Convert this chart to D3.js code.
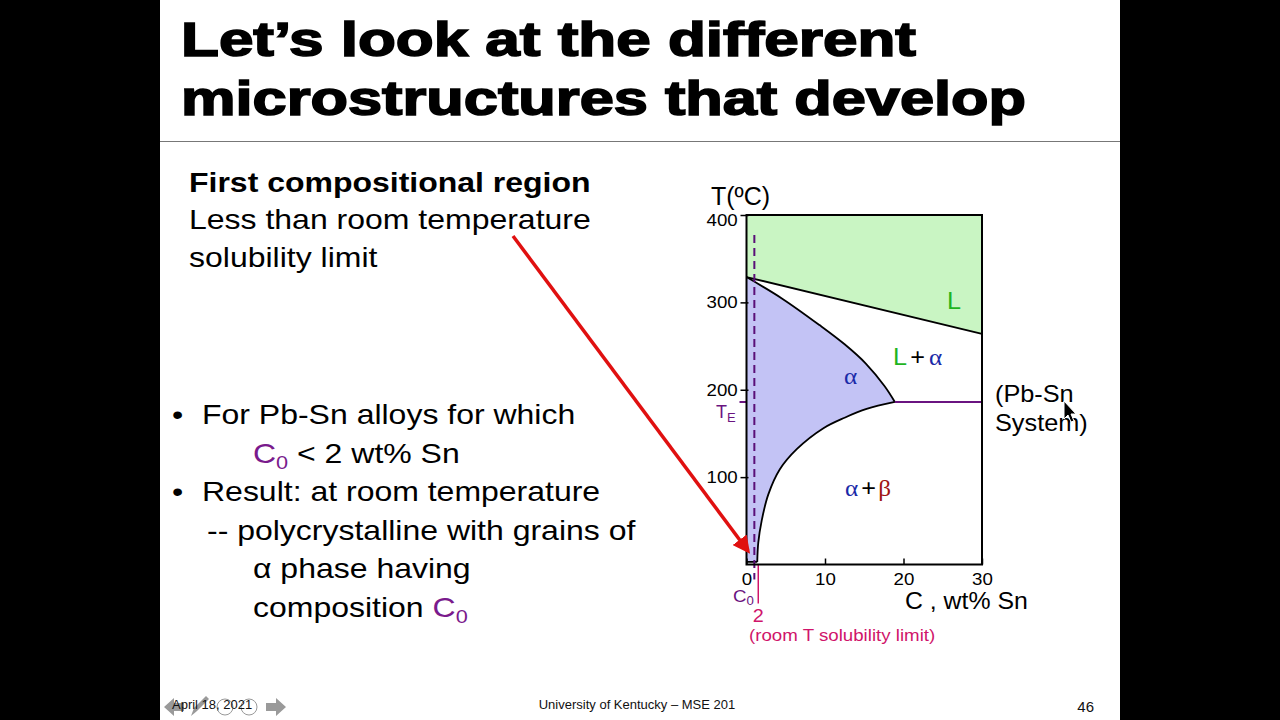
<!DOCTYPE html>
<html>
<head>
<meta charset="utf-8">
<script src="https://cdn.jsdelivr.net/npm/d3@7"></script>
<style>
  html, body { margin: 0; padding: 0; background: #000; }
  svg { display: block; font-family: "Liberation Sans", Arial, sans-serif; }
</style>
</head>
<body>
<svg id="slide" width="1280" height="720"></svg>
<script>
// ---- data ----
const compTicks = [0, 10, 20, 30];          // wt% Sn
const tempTicks = [100, 200, 300, 400];     // deg C
const liquidus = [[0, 329], [30, 264]];
const solidus = [[0, 329], [4.6, 304], [9.3, 274], [12.5, 252], [15.2, 230], [17.6, 204], [18.9, 186]];
const solvus = [[18.9, 186], [15.3, 178], [12.5, 168], [9.8, 156], [6.4, 132], [4.25, 109], [2.77, 80], [1.93, 50], [1.5, 25], [1.37, 3]];
const eutecticT = 186;
const c0 = 1.0;
const solubilityLimit = 1.5;   // drawn position of the "2" line
const dashTop = 377;

const svg = d3.select('#slide');

// text helper: the slide is stretched a bit horizontally
function txt(parent, x, y, size, sx = 1) {
  return parent.append('text')
    .attr('transform', `translate(${x},${y}) scale(${sx},1)`)
    .attr('font-size', size);
}

// slide background
svg.append('rect').attr('x', 160).attr('y', 0).attr('width', 960).attr('height', 720).attr('fill', '#fff');

// title
const title = svg.append('g').attr('font-weight', 900).attr('font-size', 48).attr('fill', '#000')
  .attr('stroke', '#000').attr('stroke-width', 1.6);
title.append('text').attr('x', 181).attr('y', 56).attr('textLength', 735).attr('lengthAdjust', 'spacingAndGlyphs')
  .text('Let’s look at the different');
title.append('text').attr('x', 181).attr('y', 115).attr('textLength', 845).attr('lengthAdjust', 'spacingAndGlyphs')
  .text('microstructures that develop');
svg.append('line').attr('x1', 160).attr('x2', 1120).attr('y1', 141.5).attr('y2', 141.5)
  .attr('stroke', '#777').attr('stroke-width', 1.2);

// left text
const body = svg.append('g').attr('fill', '#000');
const bs = 28, bsx = 1.143;
txt(body, 189, 192, bs, bsx).attr('font-weight', 'bold').text('First compositional region');
txt(body, 189, 229, bs, bsx).text('Less than room temperature');
txt(body, 189, 267, bs, bsx).text('solubility limit');

const purple = '#7a1a8c';
txt(body, 172, 424, bs, bsx).text('•');
txt(body, 202, 424, bs, bsx).text('For Pb-Sn alloys for which');
const l2 = txt(body, 253, 463, bs, bsx);
l2.append('tspan').attr('fill', purple).text('C');
l2.append('tspan').attr('fill', purple).attr('font-size', 19).attr('dy', 6).text('0');
l2.append('tspan').attr('dy', -6).text(' < 2 wt% Sn');
txt(body, 172, 501, bs, bsx).text('•');
txt(body, 202, 501, bs, bsx).text('Result: at room temperature');
txt(body, 207, 540, bs, bsx).text('-- polycrystalline with grains of');
txt(body, 253, 578, bs, bsx).text('α phase having');
const l6 = txt(body, 253, 617, bs, bsx);
l6.append('tspan').text('composition ');
l6.append('tspan').attr('fill', purple).text('C');
l6.append('tspan').attr('fill', purple).attr('font-size', 19).attr('dy', 6).text('0');

// ---- phase diagram ----
const x = d3.scaleLinear().domain([0, 30]).range([746.5, 982]);
const y = d3.scaleLinear().domain([0, 400]).range([564.5, 215]);
const g = svg.append('g');

const line = d3.line().x(d => x(d[0])).y(d => y(d[1]));
const curve = d3.line().x(d => x(d[0])).y(d => y(d[1])).curve(d3.curveCatmullRom.alpha(0.5));

// liquid region
const liqArea = [[0, 400], ...liquidus, [30, 400]];
g.append('path').attr('d', line(liqArea) + 'Z').attr('fill', '#c9f5c3');

// alpha region
const lowT = solvus[solvus.length - 1][1];
const alphaPath = line([[0, lowT], [0, solidus[0][1]]]) +
  curve(solidus).replace('M', 'L') + curve(solvus).replace('M', 'L') + 'Z';
g.append('path').attr('d', alphaPath).attr('fill', '#c3c3f5');

// boundaries
g.append('path').attr('d', line(liquidus)).attr('fill', 'none').attr('stroke', '#000').attr('stroke-width', 1.8);
g.append('path').attr('d', curve(solidus)).attr('fill', 'none').attr('stroke', '#000').attr('stroke-width', 1.8);
g.append('path').attr('d', curve(solvus)).attr('fill', 'none').attr('stroke', '#000').attr('stroke-width', 1.8);
g.append('path').attr('d', line([[0, lowT], solvus[solvus.length - 1]])).attr('stroke', '#000').attr('stroke-width', 1.8);

// eutectic line
const ePurple = '#6a1480';
g.append('line').attr('x1', x(solvus[0][0])).attr('x2', x(30)).attr('y1', y(eutecticT)).attr('y2', y(eutecticT))
  .attr('stroke', ePurple).attr('stroke-width', 2);
g.append('line').attr('x1', x(0) - 7).attr('x2', x(0)).attr('y1', y(eutecticT)).attr('y2', y(eutecticT))
  .attr('stroke', ePurple).attr('stroke-width', 2);

// solubility limit line (crimson)
const crimson = '#d0146a';
g.append('line').attr('x1', x(solubilityLimit)).attr('x2', x(solubilityLimit)).attr('y1', y(0)).attr('y2', y(0) + 39)
  .attr('stroke', crimson).attr('stroke-width', 1.5);

// C0 dashed line
g.append('line').attr('x1', x(c0)).attr('x2', x(c0)).attr('y1', y(dashTop)).attr('y2', y(0) + 15)
  .attr('stroke', '#5a0f78').attr('stroke-width', 2).attr('stroke-dasharray', '8,5');

// frame
g.append('rect').attr('x', x(0)).attr('y', y(400)).attr('width', x(30) - x(0)).attr('height', y(0) - y(400))
  .attr('fill', 'none').attr('stroke', '#000').attr('stroke-width', 2);

// axes
const yAxis = d3.axisLeft(y).tickValues(tempTicks).tickSize(6).tickPadding(2);
const ya = g.append('g').attr('transform', `translate(${x(0)},0)`).call(yAxis);
ya.select('.domain').remove();
ya.selectAll('line').attr('stroke', '#000').attr('stroke-width', 1.5).attr('x2', -6).attr('x1', 2);
ya.selectAll('text').attr('font-size', 17).attr('fill', '#000').attr('font-family', '"Liberation Sans", Arial, sans-serif')
  .attr('transform', d => d === 400 ? 'translate(0,5) scale(1.1,1)' : 'scale(1.1,1)');

const xAxis = d3.axisBottom(x).tickValues(compTicks).tickSize(-6).tickPadding(8);
const xa = g.append('g').attr('transform', `translate(0,${y(0)})`).call(xAxis);
xa.select('.domain').remove();
xa.selectAll('line').attr('stroke', '#000').attr('stroke-width', 1.5);
xa.selectAll('text').attr('font-size', 17).attr('fill', '#000').attr('font-family', '"Liberation Sans", Arial, sans-serif')
  .attr('transform', 'scale(1.1,1)');

// axis titles
txt(g, 711, 205, 25).text('T(ºC)');
txt(g, 905, 609, 23, 1.08).text('C , wt% Sn');

// labels in diagram
const green = '#1fb41f', blue = '#1a2aa8', beta = '#a01414';
txt(g, 947, 309, 24, 1.05).attr('fill', green).text('L');
const la = txt(g, 893, 365, 24, 1.05);
la.append('tspan').attr('fill', green).text('L');
la.append('tspan').attr('fill', '#000').attr('dx', 3).text('+');
la.append('tspan').attr('fill', blue).attr('font-family', 'serif').attr('dx', 4).text('α');
txt(g, 844, 384, 24, 1.05).attr('font-family', 'serif').attr('fill', blue).text('α');
const ab = txt(g, 845, 496, 24, 1.05);
ab.append('tspan').attr('fill', blue).attr('font-family', 'serif').text('α');
ab.append('tspan').attr('fill', '#000').attr('dx', 3).text('+');
ab.append('tspan').attr('fill', beta).attr('font-family', 'serif').attr('dx', 2).text('β');

const te = txt(g, 716, 418, 18).attr('fill', ePurple);
te.append('tspan').text('T');
te.append('tspan').attr('font-size', 13).attr('dy', 4).text('E');

const c0l = txt(g, 733, 602, 17, 1.1).attr('fill', ePurple);
c0l.append('tspan').text('C');
c0l.append('tspan').attr('font-size', 12).attr('dy', 3).text('0');

txt(g, x(solubilityLimit), 622, 18, 1.1).attr('text-anchor', 'middle').attr('fill', crimson).text('2');
txt(g, 749, 641, 17, 1.1).attr('fill', crimson).text('(room T solubility limit)');

txt(g, 995, 402, 23, 1.1).text('(Pb-Sn');
txt(g, 995, 431, 23, 1.1).text('System)');

// red arrow
svg.append('defs').append('marker').attr('id', 'head').attr('viewBox', '0 0 10 10').attr('refX', 8).attr('refY', 5)
  .attr('markerWidth', 5).attr('markerHeight', 5).attr('orient', 'auto')
  .append('path').attr('d', 'M0,0L10,5L0,10Z').attr('fill', '#e01010');
svg.append('line').attr('x1', 513).attr('y1', 236).attr('x2', 748).attr('y2', 551)
  .attr('stroke', '#e01010').attr('stroke-width', 3.5).attr('marker-end', 'url(#head)');

// mouse cursor
svg.append('path').attr('d', 'M1064,401 L1064,419 L1068,415 L1071,422 L1074,421 L1071,414 L1076,414 Z')
  .attr('fill', '#000').attr('stroke', '#fff').attr('stroke-width', 1);

// footer
const nav = svg.append('g').attr('fill', '#9a9a9a');
nav.append('path').attr('d', 'M164,707 L174,698 L174,703 L184,703 L184,711 L174,711 L174,716 Z');
nav.append('path').attr('d', 'M266,703 L276,703 L276,698 L286,707 L276,716 L276,711 L266,711 Z');
nav.append('path').attr('d', 'M191,716 L194,708 L206,696 L209,699 L197,711 Z');
nav.append('circle').attr('cx', 225).attr('cy', 707).attr('r', 8).attr('fill', 'none').attr('stroke', '#999');
nav.append('circle').attr('cx', 249).attr('cy', 707).attr('r', 8).attr('fill', 'none').attr('stroke', '#999');
svg.append('text').attr('x', 172).attr('y', 709).attr('font-size', 13).attr('fill', '#111').text('April 18, 2021');
svg.append('text').attr('x', 637).attr('y', 709).attr('text-anchor', 'middle').attr('font-size', 13).attr('fill', '#111')
  .text('University of Kentucky – MSE 201');
svg.append('text').attr('x', 1094).attr('y', 712).attr('text-anchor', 'end').attr('font-size', 15).attr('fill', '#111').text('46');
</script>
</body>
</html>
